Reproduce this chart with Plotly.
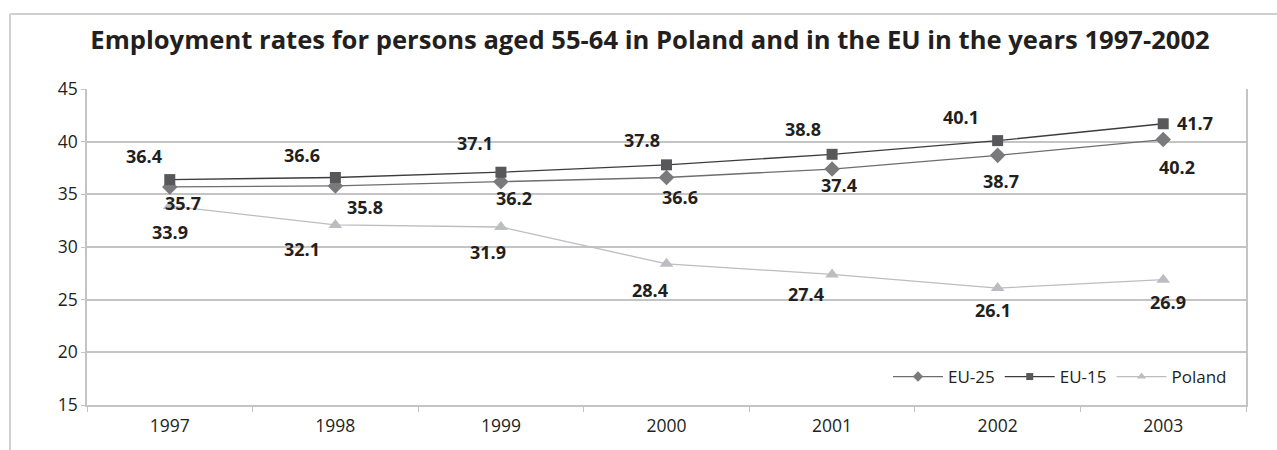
import plotly.graph_objects as go

# Employment rates, persons aged 55-64 (%)
years = ["1997", "1998", "1999", "2000", "2001", "2002", "2003"]
eu25 = [35.7, 35.8, 36.2, 36.6, 37.4, 38.7, 40.2]
eu15 = [36.4, 36.6, 37.1, 37.8, 38.8, 40.1, 41.7]
poland = [33.9, 32.1, 31.9, 28.4, 27.4, 26.1, 26.9]
y_ticks = [15, 20, 25, 30, 35, 40, 45]

# Pixel offsets of the value labels relative to their markers
eu25_shift = [(13, -16), (30, -21), (13, -16), (13, -20), (7, -16), (3, -26), (14, -27)]
eu15_shift = [(-26, 24), (-33, 22), (-26, 29), (-25, 25), (-29, 25), (-37, 24), (32, 1)]
pl_shift = [(0, -26), (-33, -24), (-13, -25), (-17, -26), (-26, -20), (-5, -22), (5, -22)]

FONT = "Open Sans"
TEXT = "#231f20"
GRID = "#c4c4c6"

series = [
    ("EU-25", eu25, "#7a7a7c", "#6e6e70", "diamond", 12, 8, eu25_shift),
    ("EU-15", eu15, "#58585a", "#3c3c3e", "square", 11, 7, eu15_shift),
    ("Poland", poland, "#bcbdc0", "#bcbdc0", "triangle-up", 12, 8, pl_shift),
]

fig = go.Figure()
annotations = []
for name, vals, mcol, lcol, sym, size, key_size, shifts in series:
    fig.add_trace(go.Scatter(
        x=years, y=vals, name=name, mode="lines+markers",
        line=dict(color=lcol, width=1.3),
        marker=dict(symbol=sym, size=size, color=mcol),
        hoverinfo="skip", showlegend=False, legendgroup=name,
    ))
    # legend key with a smaller marker than the plotted one
    fig.add_trace(go.Scatter(
        x=[None], y=[None], name=name, mode="lines+markers",
        line=dict(color=lcol, width=1.3),
        marker=dict(symbol=sym, size=key_size, color=mcol),
        hoverinfo="skip", showlegend=True, legendgroup=name,
    ))
    # category axes place annotations by category index
    for i, (v, (dx, dy)) in enumerate(zip(vals, shifts)):
        annotations.append(dict(
            x=i, y=v, xref="x", yref="y", text=f"{v:.1f}", showarrow=False,
            xshift=dx, yshift=dy,
            font=dict(family=FONT, size=18, color=TEXT, weight="bold"),
        ))

# Outer frame: top and left edges
W, H = 1277, 450
L, R, T, B = 87, 31, 89, 45
pw, ph = W - L - R, H - T - B
fx = (10 - L) / pw
fy = (H - B - 14) / ph
shapes = [
    dict(type="line", xref="paper", yref="paper", x0=fx, x1=(W - L) / pw, y0=fy, y1=fy,
         line=dict(color="#d0d0d2", width=2)),
    dict(type="line", xref="paper", yref="paper", x0=fx, x1=fx, y0=fy, y1=-B / ph - 0.01,
         line=dict(color="#d0d0d2", width=2)),
]

fig.update_layout(
    width=W, height=H,
    margin=dict(l=L, r=R, t=T, b=B, pad=0),
    paper_bgcolor="white", plot_bgcolor="white",
    font=dict(family=FONT, size=17, color=TEXT),
    title=dict(
        text="<b>Employment rates for persons aged 55-64 in Poland and in the EU in the years 1997-2002</b>",
        x=650 / W, xanchor="center", xref="container",
        y=1 - 40 / H, yanchor="middle", yref="container",
        font=dict(family=FONT, size=25.6, color=TEXT),
    ),
    xaxis=dict(
        type="category", categoryarray=years, range=[-0.5, len(years) - 0.5],
        tickson="boundaries", ticks="outside", ticklen=5, tickangle=0,
        ticklabelstandoff=4,
        tickcolor=GRID, showline=True, linecolor=GRID, linewidth=1.5,
        showgrid=False, tickfont=dict(size=17.5, color=TEXT), fixedrange=True,
    ),
    yaxis=dict(
        range=[15, 45], tickvals=y_ticks, ticks="outside", ticklen=4,
        tickcolor=GRID, showline=True, mirror=True, linecolor=GRID, linewidth=1.5,
        showgrid=True, gridcolor=GRID, gridwidth=1.5, zeroline=False,
        tickfont=dict(size=17.5, color=TEXT), fixedrange=True,
    ),
    legend=dict(
        orientation="h", x=(1232 - L) / pw, xanchor="right",
        y=(H - B - 377) / ph, yanchor="middle",
        font=dict(size=17, color=TEXT), bgcolor="rgba(0,0,0,0)",
        itemwidth=50, tracegroupgap=0, itemclick=False, itemdoubleclick=False,
    ),
    annotations=annotations,
    shapes=shapes,
    showlegend=True,
)

fig.write_html("out.html", config={"displayModeBar": False})
